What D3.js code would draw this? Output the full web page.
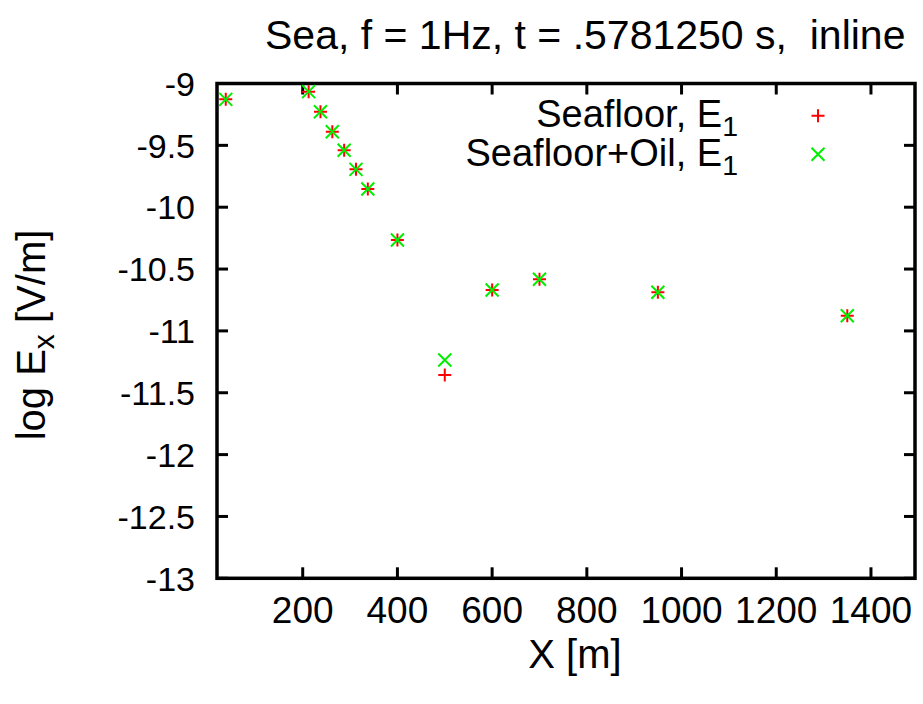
<!DOCTYPE html>
<html><head><meta charset="utf-8">
<script src="https://cdn.jsdelivr.net/npm/d3@7"></script>
<style>body{margin:0;background:#fff}svg{display:block}text{font-family:"Liberation Sans",Arial,Helvetica,sans-serif;fill:#000}</style>
</head><body>
<script>
const xs = [37.5, 212.5, 237.5, 262.5, 287.5, 312.5, 337.5, 400, 500, 600, 700, 950, 1350];
const seafloor = [-9.128, -9.066, -9.228, -9.390, -9.540, -9.694, -9.853, -10.265, -11.357, -10.669, -10.583, -10.688, -10.877];
const seafloorOil = [-9.128, -9.066, -9.228, -9.390, -9.540, -9.694, -9.853, -10.265, -11.235, -10.669, -10.583, -10.688, -10.877];
const xTicks = [200, 400, 600, 800, 1000, 1200, 1400];
const yTicks = [-9, -9.5, -10, -10.5, -11, -11.5, -12, -12.5, -13];
const fsY = 34, fsX = 37, fsBig = 40, fsKey = 38;

const W = 923, H = 704;
const L = 217, R = 915, T = 83.5, B = 578.3;
const svg = d3.select("body").append("svg").attr("width", W).attr("height", H);
const x = d3.scaleLinear().domain([19, 1493]).range([L, R]);
const y = d3.scaleLinear().domain([-13, -9]).range([B, T]);

const g = svg.append("g");
const tl = 11;
xTicks.forEach(v => {
  g.append("line").attr("x1", x(v)).attr("x2", x(v)).attr("y1", B).attr("y2", B - tl).attr("stroke", "#000").attr("stroke-width", 3);
  g.append("line").attr("x1", x(v)).attr("x2", x(v)).attr("y1", T).attr("y2", T + tl).attr("stroke", "#000").attr("stroke-width", 3);
  g.append("text").attr("x", x(v)).attr("y", 623).attr("text-anchor", "middle").attr("font-size", fsX).text(d3.format("d")(v));
});
yTicks.forEach(v => {
  g.append("line").attr("x1", L).attr("x2", L + tl).attr("y1", y(v)).attr("y2", y(v)).attr("stroke", "#000").attr("stroke-width", 3);
  g.append("line").attr("x1", R).attr("x2", R - tl).attr("y1", y(v)).attr("y2", y(v)).attr("stroke", "#000").attr("stroke-width", 3);
  g.append("text").attr("x", 195).attr("y", y(v)).attr("dy", "0.36em").attr("text-anchor", "end").attr("font-size", fsY).text(String(v));
});
g.append("rect").attr("x", L).attr("y", T).attr("width", R - L).attr("height", B - T).attr("fill", "none").attr("stroke", "#000").attr("stroke-width", 3.5);

const s = 6.5;
function plus(sel, cx, cy) {
  sel.append("path").attr("d", `M${cx - s},${cy}H${cx + s}M${cx},${cy - s}V${cy + s}`).attr("stroke", "#ff0000").attr("stroke-width", 2).attr("fill", "none");
}
function cross(sel, cx, cy) {
  sel.append("path").attr("d", `M${cx - s},${cy - s}L${cx + s},${cy + s}M${cx - s},${cy + s}L${cx + s},${cy - s}`).attr("stroke", "#00ee00").attr("stroke-width", 2).attr("fill", "none");
}
const pts = svg.append("g");
xs.forEach((v, i) => plus(pts, x(v), y(seafloor[i])));
xs.forEach((v, i) => cross(pts, x(v), y(seafloorOil[i])));

const lg = svg.append("g");
function legendText(yb, main) {
  const t = lg.append("text").attr("x", 738).attr("y", yb).attr("text-anchor", "end").attr("font-size", fsKey);
  t.append("tspan").text(main);
  t.append("tspan").attr("font-size", fsKey * 0.75).attr("dy", 9).text("1");
}
legendText(127, "Seafloor, E");
legendText(166, "Seafloor+Oil, E");
plus(lg, 818, 115.7);
cross(lg, 818, 154.3);

svg.append("text").attr("x", 265).attr("y", 49).attr("font-size", 41).style("white-space", "pre").text("Sea, f = 1Hz, t = .5781250 s,  inline");

svg.append("text").attr("x", 575).attr("y", 668).attr("text-anchor", "middle").attr("font-size", fsBig).text("X [m]");
const yl = svg.append("text").attr("transform", "translate(45,335) rotate(-90)").attr("text-anchor", "middle").attr("font-size", fsBig);
yl.append("tspan").text("log E");
yl.append("tspan").attr("font-size", fsBig * 0.75).attr("dy", 9).text("x");
yl.append("tspan").attr("dy", -9).text(" [V/m]");
</script>
</body></html>
